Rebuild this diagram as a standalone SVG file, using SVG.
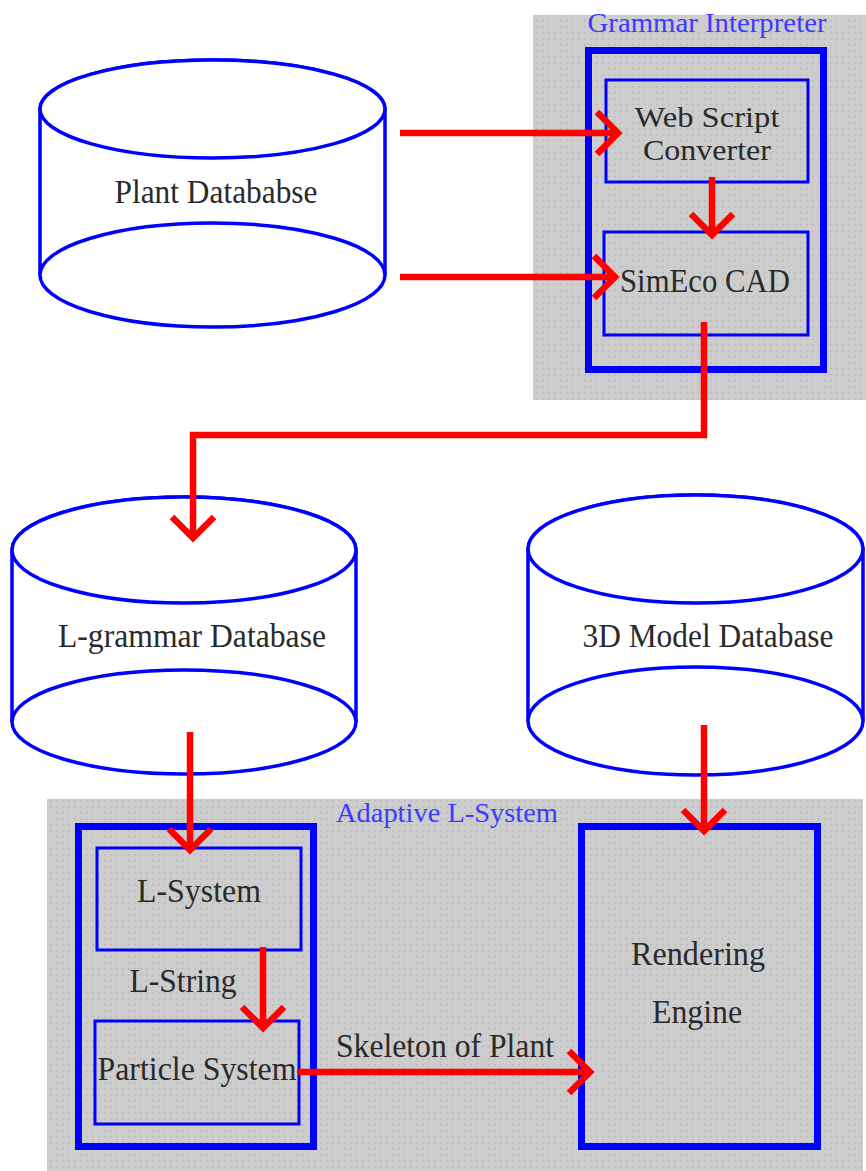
<svg xmlns="http://www.w3.org/2000/svg" width="866" height="1171" viewBox="0 0 866 1171">
  <defs>
    <pattern id="dots" width="6" height="6" patternUnits="userSpaceOnUse">
      <rect width="6" height="6" fill="#cdcdcd"/>
      <rect x="2" y="2" width="1.6" height="1.6" fill="#b9b9b9"/>
    </pattern>
    <marker id="chev" viewBox="-28 -26 32 52" refX="0" refY="0" markerWidth="32" markerHeight="52" markerUnits="userSpaceOnUse" orient="auto">
      <path d="M-22,-21 L-1,0 L-22,21" fill="none" stroke="#ff0000" stroke-width="6.5"/>
    </marker>
    <style>
      .panel { fill: url(#dots); }
      .frame { fill: none; stroke: #0000ff; stroke-width: 7; }
      .box { fill: none; stroke: #0000ff; stroke-width: 3; }
      .cyl { fill: #ffffff; stroke: #0000ff; stroke-width: 3.5; }
      .lbl { font-family: "Liberation Serif", "Times New Roman", serif; font-size: 33px; fill: #2a2a2a; text-anchor: middle; }
      .lbl.two { font-size: 29px; }
      .ttl { font-family: "Liberation Serif", "Times New Roman", serif; font-size: 28px; fill: #3a3aff; text-anchor: middle; }
      .flow { fill: none; stroke: #ff0000; stroke-width: 6.5; stroke-linejoin: miter; marker-end: url(#chev); }
    </style>
  </defs>

  <rect width="866" height="1171" fill="#ffffff"/>

  <!-- Grammar Interpreter panel -->
  <g id="grammar-interpreter">
    <rect class="panel" x="533" y="15" width="333" height="385"/>
    <text class="ttl" x="707" y="32" textLength="239" lengthAdjust="spacingAndGlyphs">Grammar Interpreter</text>
    <rect class="frame" x="588.5" y="50.5" width="235" height="319"/>
  </g>
  <g id="web-script-converter">
    <rect class="box" x="606" y="80" width="202" height="102"/>
    <text class="lbl two" x="707" y="127" textLength="145" lengthAdjust="spacingAndGlyphs">Web Script</text>
    <text class="lbl two" x="707" y="160" textLength="128" lengthAdjust="spacingAndGlyphs">Converter</text>
  </g>
  <g id="simeco-cad">
    <rect class="box" x="604" y="232" width="204" height="103"/>
    <text class="lbl" x="705" y="292" textLength="170" lengthAdjust="spacingAndGlyphs">SimEco CAD</text>
  </g>

  <!-- Plant database -->
  <g id="plant-database">
    <path class="cyl" d="M40,109 L40,275 A172.5,52 0 0 0 385,275 L385,109 A172.5,49 0 0 0 40,109 Z"/>
    <ellipse class="cyl" cx="212.5" cy="109" rx="172.5" ry="49"/>
    <path class="cyl" d="M40,275 A172.5,52 0 0 1 385,275" fill="none"/>
    <text class="lbl" x="216" y="203" textLength="203" lengthAdjust="spacingAndGlyphs">Plant Datababse</text>
  </g>

  <!-- L-grammar database -->
  <g id="l-grammar-database">
    <path class="cyl" d="M12,550 L12,722 A172,52 0 0 0 356,722 L356,550 A172,53 0 0 0 12,550 Z"/>
    <ellipse class="cyl" cx="184" cy="550" rx="172" ry="53"/>
    <path class="cyl" d="M12,722 A172,52 0 0 1 356,722" fill="none"/>
    <text class="lbl" x="192" y="647" textLength="268" lengthAdjust="spacingAndGlyphs">L-grammar Database</text>
  </g>

  <!-- 3D model database -->
  <g id="model-database">
    <path class="cyl" d="M528,549 L528,721 A167.5,54 0 0 0 863,721 L863,549 A167.5,54 0 0 0 528,549 Z"/>
    <ellipse class="cyl" cx="695.5" cy="549" rx="167.5" ry="54"/>
    <path class="cyl" d="M528,721 A167.5,54 0 0 1 863,721" fill="none"/>
    <text class="lbl" x="708" y="647" textLength="251" lengthAdjust="spacingAndGlyphs">3D Model Database</text>
  </g>

  <!-- Adaptive L-System panel -->
  <g id="adaptive-l-system">
    <rect class="panel" x="47" y="799" width="816" height="372"/>
    <text class="ttl" x="447" y="822" textLength="222" lengthAdjust="spacingAndGlyphs">Adaptive L-System</text>
    <rect class="frame" x="78.5" y="826.5" width="235" height="320"/>
  </g>
  <g id="l-system">
    <rect class="box" x="97" y="848" width="204" height="102"/>
    <text class="lbl" x="199" y="902" textLength="124" lengthAdjust="spacingAndGlyphs">L-System</text>
  </g>
  <g id="particle-system">
    <rect class="box" x="95" y="1021" width="204" height="103"/>
    <text class="lbl" x="197" y="1080" textLength="199" lengthAdjust="spacingAndGlyphs">Particle System</text>
  </g>
  <g id="rendering-engine">
    <rect class="frame" x="581.5" y="826.5" width="236" height="320"/>
    <text class="lbl" x="698" y="965" textLength="134" lengthAdjust="spacingAndGlyphs">Rendering</text>
    <text class="lbl" x="697" y="1023" textLength="90" lengthAdjust="spacingAndGlyphs">Engine</text>
  </g>

  <!-- Data flow connectors -->
  <g id="connectors">
    <path class="flow" d="M400,133 L619,133"/>
    <path class="flow" d="M400,277 L616,277"/>
    <path class="flow" d="M712,177 L712,236"/>
    <path class="flow" d="M704,322 L704,435 L193,435 L193,539"/>
    <path class="flow" d="M190,732 L190,851"/>
    <path class="flow" d="M704,725 L704,832"/>
    <path class="flow" d="M263,947 L263,1029"/>
    <path class="flow" d="M297,1072 L591,1072"/>
    <text class="lbl" x="183" y="992" textLength="107" lengthAdjust="spacingAndGlyphs">L-String</text>
    <text class="lbl" x="445" y="1057" textLength="218" lengthAdjust="spacingAndGlyphs">Skeleton of Plant</text>
  </g>
</svg>
